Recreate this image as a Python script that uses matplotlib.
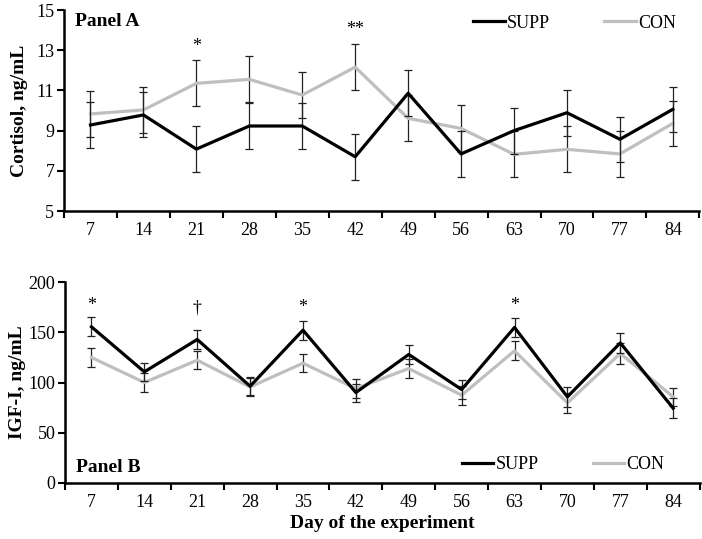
import matplotlib.pyplot as plt
from matplotlib.lines import Line2D
import numpy as np

plt.rcParams['font.family'] = ['Liberation Serif', 'DejaVu Serif']

# Days of the experiment
days = ['7', '14', '21', '28', '35', '42', '49', '56', '63', '70', '77', '84']

# Panel A - cortisol (ng/mL), mean and SE
cort_supp = [9.28, 9.78, 8.08, 9.23, 9.23, 7.70, 10.86, 7.84, 9.00, 9.89, 8.57, 10.06]
cort_supp_se = [1.14, 1.12, 1.13, 1.14, 1.13, 1.14, 1.15, 1.13, 1.14, 1.14, 1.13, 1.12]
cort_con = [9.83, 10.03, 11.35, 11.55, 10.77, 12.16, 9.61, 9.11, 7.82, 8.07, 7.84, 9.36]
cort_con_se = [1.14, 1.16, 1.14, 1.14, 1.15, 1.14, 1.15, 1.15, 1.15, 1.14, 1.14, 1.13]

# Panel B - IGF-I (ng/mL), mean and SE
igf_supp = [155.4, 110.6, 142.8, 96.3, 152.1, 90.0, 127.9, 93.0, 154.8, 85.7, 139.4, 74.4]
igf_supp_se = [9.5, 9.0, 9.2, 9.0, 9.5, 9.0, 9.6, 9.6, 9.3, 9.6, 10.0, 10.0]
igf_con = [124.9, 100.0, 122.2, 95.6, 119.2, 94.0, 113.9, 87.4, 131.5, 79.7, 128.9, 85.7]
igf_con_se = [9.2, 9.7, 9.2, 9.2, 9.0, 9.0, 9.6, 9.3, 9.3, 10.0, 10.0, 9.3]

# significance marks: (day index, y, text)
marks_a = [(2, 12.75, '*'), (5, 13.6, '**')]
marks_b = [(0, 168, '*'), (2, 166, '†'), (4, 166, '*'), (8, 168, '*')]

gray = '#bfbfbf'
x = np.arange(len(days))

fig = plt.figure(figsize=(7.02, 5.39), dpi=100)
ax1 = fig.add_axes([0.0912, 0.6085, 0.905, 0.3729])
ax2 = fig.add_axes([0.0926, 0.1039, 0.904, 0.3729])


def draw_panel(ax, supp, supp_se, con, con_se, marks):
    ax.errorbar(x, con, yerr=con_se, color=gray, lw=2.3, ecolor='#222222',
                elinewidth=0.9, capsize=2.6, capthick=0.9, zorder=2)
    ax.errorbar(x, supp, yerr=supp_se, color='black', lw=2.3, ecolor='#222222',
                elinewidth=0.9, capsize=2.6, capthick=0.9, zorder=3)
    for i, y, t in marks:
        ax.text(i, y, t, ha='center', va='bottom', fontsize=13)
    ax.set_xlim(-0.5, len(days) - 0.5)
    ax.set_xticks(np.arange(len(days) + 1) - 0.5)
    ax.set_xticklabels([])
    ax.set_xticks(x, minor=True)
    ax.set_xticklabels(days, minor=True)
    ax.tick_params(axis='x', which='major', length=5, width=1.5, direction='out')
    ax.tick_params(axis='x', which='minor', length=0, pad=8, labelsize=13)
    ax.tick_params(axis='y', length=5, width=1.5, direction='out', labelsize=13, pad=2)
    for s in ['top', 'right']:
        ax.spines[s].set_visible(False)
    for s in ['left', 'bottom']:
        ax.spines[s].set_linewidth(1.8)


handles = [Line2D([], [], color='black', lw=2.3), Line2D([], [], color=gray, lw=2.3)]
labels = ['SUPP', 'CON']
leg_kw = dict(ncol=2, frameon=False, loc='center left', borderpad=0, borderaxespad=0,
              handlelength=1.75, handletextpad=0.12, columnspacing=3.0, fontsize=13)

draw_panel(ax1, cort_supp, cort_supp_se, cort_con, cort_con_se, marks_a)
ax1.set_ylim(5, 15)
ax1.set_yticks([5, 7, 9, 11, 13, 15])
ax1.set_ylabel('Cortisol, ng/mL', fontsize=14, fontweight='bold', labelpad=6)
ax1.text(0.017, 0.985, 'Panel A', transform=ax1.transAxes, fontsize=14,
         fontweight='bold', va='top', ha='left')
ax1.legend(handles, labels, bbox_to_anchor=(0.644, 0.935), **leg_kw)

draw_panel(ax2, igf_supp, igf_supp_se, igf_con, igf_con_se, marks_b)
ax2.set_ylim(0, 200)
ax2.set_yticks([0, 50, 100, 150, 200])
ax2.set_ylabel('IGF-I, ng/mL', fontsize=14, fontweight='bold', labelpad=2)
ax2.text(0.017, 0.035, 'Panel B', transform=ax2.transAxes, fontsize=14,
         fontweight='bold', va='bottom', ha='left')
ax2.legend(handles, labels, bbox_to_anchor=(0.625, 0.09), **leg_kw)
ax2.set_xlabel('Day of the experiment', fontsize=14, fontweight='bold', labelpad=3)

fig.savefig('out.png', dpi=100)
